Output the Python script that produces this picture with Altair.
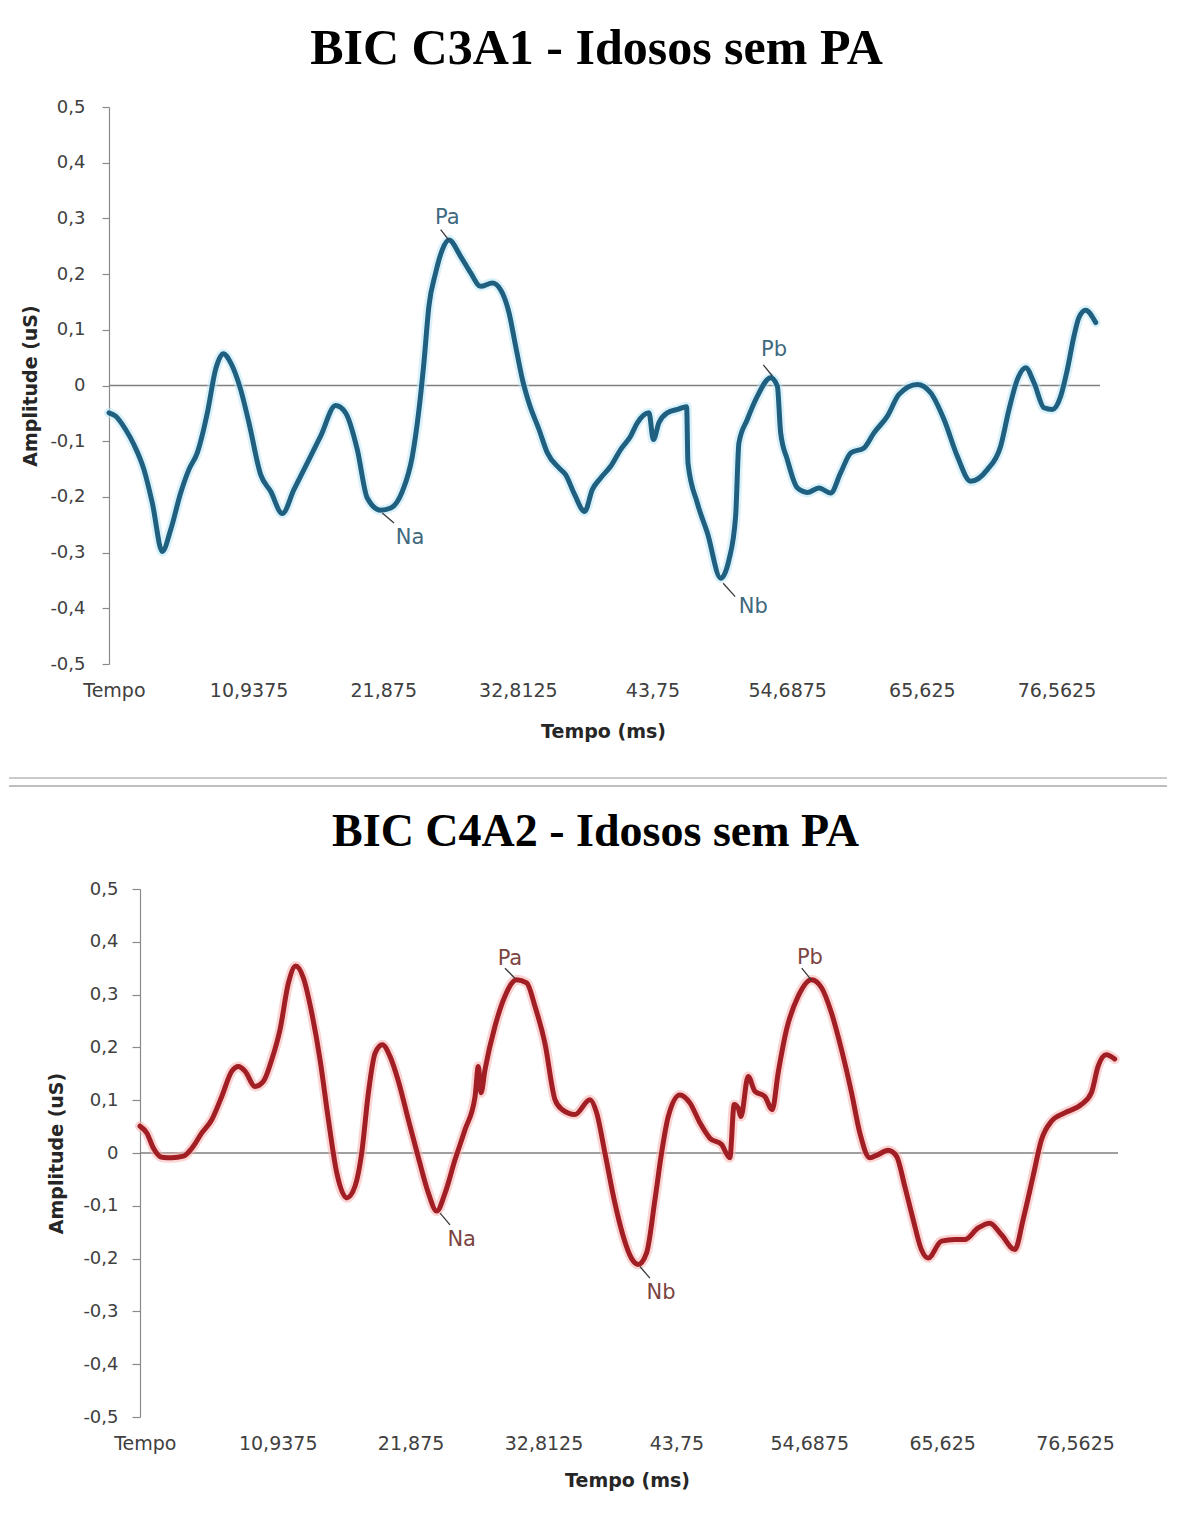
import altair as alt
import pandas as pd

# ---------------- shared axis ticks ----------------
X_TICKS = [0, 10.9375, 21.875, 32.8125, 43.75, 54.6875, 65.625, 76.5625]
X_TICK_LABELS = ["Tempo", "10,9375", "21,875", "32,8125", "43,75", "54,6875", "65,625", "76,5625"]
Y_TICKS = [-0.5, -0.4, -0.3, -0.2, -0.1, 0, 0.1, 0.2, 0.3, 0.4, 0.5]
Y_TICK_LABELS = ["-0,5", "-0,4", "-0,3", "-0,2", "-0,1", "0", "0,1", "0,2", "0,3", "0,4", "0,5"]

# ---------------- top chart: BIC C3A1 ----------------
TOP_TITLE = "BIC C3A1 - Idosos sem PA"
TOP_T = [-0.4, 0.14, 0.95, 1.62, 2.44, 3.12, 3.93, 4.61, 5.42, 6.09, 6.77, 7.59, 8.26, 8.89,
         9.48, 10.29, 10.97, 11.92, 12.73, 13.68, 14.62, 15.71, 16.79, 18.01, 18.82, 19.77,
         20.58, 21.67, 22.48, 23.43, 24.24, 24.78, 25.18, 25.59, 26.13, 26.68, 27.21, 28.16,
         28.98, 29.79, 30.74, 31.41, 32.09, 32.63, 33.18, 33.71, 34.53, 35.21, 36.15, 36.69,
         37.37, 38.24, 38.86, 39.54, 40.35, 41.16, 41.97, 42.52, 43.46, 43.82, 44.27, 44.95,
         45.77, 46.52, 46.63, 47.39, 48.21, 49.29, 49.96, 50.50, 50.77, 51.45, 52.27, 53.35,
         53.89, 54.16, 54.70, 55.52, 56.33, 57.27, 58.22, 59.03, 59.85, 60.93, 61.74, 62.83,
         63.77, 65.26, 66.34, 67.43, 68.51, 69.59, 70.95, 72.03, 72.71, 73.39, 74.06, 74.74,
         75.55, 76.23, 76.91, 77.45, 77.99, 78.39, 78.93, 79.75]
TOP_V = [-0.049, -0.055, -0.079, -0.106, -0.151, -0.211, -0.298, -0.259, -0.193, -0.151,
         -0.121, -0.049, 0.029, 0.057, 0.041, -0.007, -0.067, -0.160, -0.190, -0.230, -0.187,
         -0.139, -0.091, -0.036, -0.049, -0.115, -0.202, -0.224, -0.220, -0.190, -0.127,
         -0.043, 0.041, 0.143, 0.202, 0.244, 0.261, 0.232, 0.202, 0.178, 0.184, 0.172, 0.131,
         0.071, 0.011, -0.031, -0.079, -0.121, -0.148, -0.160, -0.193, -0.226, -0.187, -0.166,
         -0.145, -0.115, -0.091, -0.067, -0.049, -0.097, -0.067, -0.049, -0.043, -0.038,
         -0.139, -0.211, -0.265, -0.346, -0.313, -0.235, -0.103, -0.061, -0.019, 0.014,
         -0.001, -0.085, -0.133, -0.184, -0.192, -0.184, -0.193, -0.157, -0.121, -0.112,
         -0.085, -0.055, -0.016, 0.002, -0.013, -0.061, -0.127, -0.172, -0.151, -0.109,
         -0.043, 0.011, 0.032, 0.005, -0.040, -0.043, -0.019, 0.029, 0.089, 0.122, 0.135, 0.113]
TOP_LABELS = ["Pa", "Na", "Pb", "Nb"]
TOP_LABEL_T = [27.08, 24.05, 53.62, 51.93]
TOP_LABEL_V = [0.301, -0.274, 0.064, -0.397]
TOP_LEAD_T1 = [26.54, 21.80, 52.75, 49.49]
TOP_LEAD_V1 = [0.280, -0.229, 0.037, -0.355]
TOP_LEAD_T2 = [27.21, 22.75, 53.49, 50.46]
TOP_LEAD_V2 = [0.261, -0.247, 0.017, -0.379]

# ---------------- bottom chart: BIC C4A2 ----------------
BOT_TITLE = "BIC C4A2 - Idosos sem PA"
BOT_T = [-0.4, 0.16, 0.71, 1.40, 2.22, 3.18, 3.87, 4.69, 5.51, 6.33, 7.16, 7.71, 8.25, 9.07,
         9.77, 10.45, 11.13, 11.82, 12.42, 13.06, 13.74, 14.42, 15.11, 15.80, 16.62, 17.30,
         17.85, 18.40, 18.95, 19.55, 20.18, 20.87, 21.69, 22.52, 23.34, 24.02, 24.71, 25.53,
         26.35, 27.18, 27.45, 27.67, 28.0, 28.82, 29.64, 30.60, 31.43, 32.11, 32.93, 33.76,
         34.31, 35.40, 36.64, 37.19, 37.87, 38.69, 39.38, 40.07, 40.61, 41.30, 41.99, 42.53,
         43.08, 44.04, 44.86, 45.69, 46.51, 47.47, 48.15, 48.51, 48.84, 49.06, 49.66, 50.21,
         51.03, 51.64, 52.13, 52.82, 53.78, 54.87, 55.70, 56.52, 57.34, 58.17, 58.85, 59.67,
         60.36, 61.18, 61.87, 62.55, 63.24, 63.92, 64.47, 65.57, 66.67, 67.49, 68.59, 69.55,
         70.51, 71.61, 72.29, 73.11, 73.80, 74.62, 75.71, 77.09, 77.91, 78.46, 79.14, 79.83]
BOT_V = [0.051, 0.038, 0.009, -0.008, -0.009, -0.006, 0.009, 0.038, 0.063, 0.107, 0.155,
         0.164, 0.155, 0.126, 0.136, 0.177, 0.234, 0.322, 0.354, 0.331, 0.265, 0.177, 0.063,
         -0.038, -0.085, -0.063, 0.0, 0.114, 0.189, 0.205, 0.183, 0.136, 0.063, -0.009,
         -0.076, -0.110, -0.076, -0.013, 0.044, 0.107, 0.164, 0.114, 0.158, 0.240, 0.297,
         0.328, 0.322, 0.278, 0.208, 0.101, 0.083, 0.073, 0.101, 0.076, 0.0, -0.095, -0.158,
         -0.200, -0.211, -0.189, -0.088, 0.0, 0.069, 0.110, 0.095, 0.057, 0.028, 0.016,
         -0.009, 0.092, 0.085, 0.069, 0.145, 0.117, 0.107, 0.082, 0.152, 0.234, 0.297, 0.328,
         0.313, 0.265, 0.196, 0.114, 0.038, -0.009, -0.003, 0.005, -0.006, -0.063, -0.126,
         -0.183, -0.199, -0.167, -0.164, -0.164, -0.142, -0.133, -0.155, -0.183, -0.126,
         -0.044, 0.025, 0.060, 0.076, 0.092, 0.114, 0.164, 0.186, 0.178]
BOT_LABELS = ["Pa", "Na", "Pb", "Nb"]
BOT_LABEL_T = [30.05, 26.08, 54.74, 42.48]
BOT_LABEL_V = [0.367, -0.164, 0.369, -0.265]
BOT_LEAD_T1 = [29.64, 24.30, 54.07, 40.75]
BOT_LEAD_V1 = [0.350, -0.114, 0.350, -0.215]
BOT_LEAD_T2 = [30.46, 25.12, 54.85, 41.57]
BOT_LEAD_V2 = [0.331, -0.136, 0.328, -0.237]

ZERO_LINE_T = [-0.4, 80.1]

SANS = "DejaVu Sans"


def lookup_expr(vals, labels):
    arr_v = "[" + ",".join(repr(v) for v in vals) + "]"
    arr_l = "[" + ",".join("'" + s + "'" for s in labels) + "]"
    return arr_l + "[indexof(" + arr_v + ", datum.value)]"


def panel(title, t, v, labels, lab_t, lab_v, l_t1, l_v1, l_t2, l_v2,
          color, halo, label_color, width, height, x_dom, y_offset, tick_size,
          y_lab_pad, y_title_pad, x_lab_pad, x_title_x, x_title_y, title_dx, title_offset,
          title_size, separator=False):
    x_scale = alt.Scale(domain=x_dom, nice=False, zero=False)
    y_scale = alt.Scale(domain=[-0.5, 0.5], nice=False, zero=False)

    x_axis = alt.Axis(
        values=X_TICKS, labelExpr=lookup_expr(X_TICKS, X_TICK_LABELS),
        title="Tempo (ms)", domain=False, ticks=False, tickSize=0, grid=False,
        labelFlush=False, labelOverlap=False, labelBound=False, labelPadding=x_lab_pad,
        labelFont=SANS, labelFontSize=19, labelColor="#404040",
        titleFont=SANS, titleFontSize=19, titleFontWeight="bold", titleColor="#262626",
        titleX=x_title_x, titleY=x_title_y, titleBaseline="middle", titleAlign="center",
    )
    y_axis = alt.Axis(
        values=Y_TICKS, labelExpr=lookup_expr(Y_TICKS, Y_TICK_LABELS),
        title="Amplitude (uS)", domain=True, domainColor="#8a8a8a", domainWidth=1.2,
        ticks=True, tickColor="#8a8a8a", tickSize=tick_size, tickWidth=1.2, grid=False,
        labelPadding=y_lab_pad, labelFont=SANS, labelFontSize=18, labelColor="#404040",
        labelFlush=False, labelOverlap=False,
        titleFont=SANS, titleFontSize=19, titleFontWeight="bold", titleColor="#262626",
        titlePadding=y_title_pad, offset=y_offset,
    )

    line_df = pd.DataFrame({"t": t, "v": v})
    zero_df = pd.DataFrame({"t": [ZERO_LINE_T[0]], "t2": [ZERO_LINE_T[1]], "v": [0.0]})
    lab_df = pd.DataFrame({"t": lab_t, "v": lab_v, "label": labels})
    lead_df = pd.DataFrame({"t": l_t1, "v": l_v1, "t2": l_t2, "v2": l_v2})

    zero = alt.Chart(zero_df).mark_rule(color="#7f7f7f", strokeWidth=1.4).encode(
        x=alt.X("t:Q", scale=x_scale, axis=x_axis),
        x2="t2:Q",
        y=alt.Y("v:Q", scale=y_scale, axis=y_axis),
    )
    glow = alt.Chart(line_df).mark_line(
        color=halo, strokeWidth=10, opacity=0.55, interpolate="monotone",
        strokeJoin="round", strokeCap="round",
    ).encode(x=alt.X("t:Q", scale=x_scale), y=alt.Y("v:Q", scale=y_scale))
    line = alt.Chart(line_df).mark_line(
        color=color, strokeWidth=5, interpolate="monotone",
        strokeJoin="round", strokeCap="round",
    ).encode(x=alt.X("t:Q", scale=x_scale), y=alt.Y("v:Q", scale=y_scale))
    leads = alt.Chart(lead_df).mark_rule(color="#3a3a3a", strokeWidth=1.3).encode(
        x=alt.X("t:Q", scale=x_scale), y=alt.Y("v:Q", scale=y_scale), x2="t2:Q", y2="v2:Q",
    )
    texts = alt.Chart(lab_df).mark_text(
        font=SANS, fontSize=21, color=label_color, align="center", baseline="middle",
    ).encode(x=alt.X("t:Q", scale=x_scale), y=alt.Y("v:Q", scale=y_scale), text="label:N")

    layers = [zero, glow, line, leads, texts]
    if separator:
        # decorative double divider line between the two pictures (screenshot frame)
        dummy = pd.DataFrame({"d": [0]})
        sep1 = alt.Chart(dummy).mark_rule(color="#b9b9b9", strokeWidth=1.6).encode(
            x=alt.value(-100), x2=alt.value(1058), y=alt.value(671))
        sep2 = alt.Chart(dummy).mark_rule(color="#a8a8a8", strokeWidth=1.6).encode(
            x=alt.value(-100), x2=alt.value(1058), y=alt.value(679))
        layers += [sep1, sep2]

    return alt.layer(*layers).properties(
        width=width, height=height,
        title=alt.TitleParams(
            text=title, font="Liberation Serif", fontSize=title_size, fontWeight="bold",
            color="#000000", anchor="middle", frame="group", dx=title_dx, offset=title_offset,
        ),
    )


top = panel(TOP_TITLE, TOP_T, TOP_V, TOP_LABELS, TOP_LABEL_T, TOP_LABEL_V,
            TOP_LEAD_T1, TOP_LEAD_V1, TOP_LEAD_T2, TOP_LEAD_V2,
            color="#1f5f80", halo="#bfe8f7", label_color="#40697e",
            width=991, height=557, x_dom=[-0.4, 80.1], y_offset=0, tick_size=7,
            y_lab_pad=17, y_title_pad=9, x_lab_pad=17, x_title_x=494, x_title_y=67,
            title_dx=-8, title_offset=24, title_size=50, separator=True)

bottom = panel(BOT_TITLE, BOT_T, BOT_V, BOT_LABELS, BOT_LABEL_T, BOT_LABEL_V,
               BOT_LEAD_T1, BOT_LEAD_V1, BOT_LEAD_T2, BOT_LEAD_V2,
               color="#a11f24", halo="#f7b0b0", label_color="#7c4440",
               width=1009, height=528, x_dom=[-2.95, 80.1], y_offset=-31, tick_size=8,
               y_lab_pad=14, y_title_pad=16, x_lab_pad=17, x_title_x=518, x_title_y=63,
               title_dx=-18, title_offset=24, title_size=46)

chart = alt.vconcat(top, bottom, spacing=22).properties(
    padding={"left": 0, "top": 16, "right": 0, "bottom": 5}
).configure(background="white").configure_view(stroke=None)

chart.save("out.html", embed_options={"renderer": "svg", "actions": False})
